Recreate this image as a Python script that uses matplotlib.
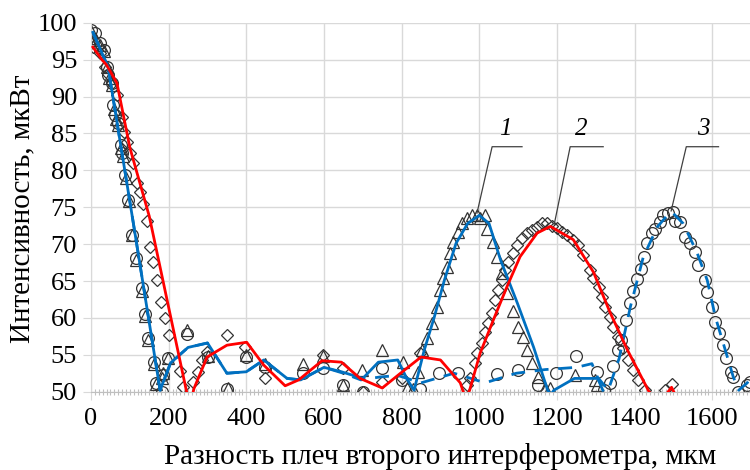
import matplotlib
matplotlib.use("Agg")
import matplotlib.pyplot as plt
from matplotlib.ticker import MultipleLocator

plt.rcParams['font.family'] = 'serif'
plt.rcParams['font.serif'] = ['Liberation Serif', 'DejaVu Serif']

# ---- curve 1: triangles + solid blue fit
tri_x = [0, 5, 12, 23, 33, 41, 47, 54, 60, 64, 70, 78, 82, 90, 97, 106, 117, 131, 139, 147,
         162, 168, 183, 186, 199, 247, 302, 352, 400, 448, 547, 598, 650, 698, 750, 804, 814,
         830, 843, 853, 865, 878, 891, 899, 907, 917, 925, 933, 946, 956, 968, 982, 994, 1002,
         1015, 1020, 1036, 1046, 1059, 1071, 1087, 1100, 1113, 1123, 1136, 1152, 1170, 1183,
         1247, 1299, 1304]
tri_y = [98.9, 98.0, 97.6, 97.0, 96.2, 94.0, 92.5, 91.6, 88.3, 87.0, 86.2, 83.0, 82.0, 79.0,
         75.8, 71.2, 67.8, 63.7, 60.3, 57.0, 53.8, 51.0, 51.8, 52.6, 54.6, 58.3, 54.8, 50.5,
         55.0, 53.8, 53.8, 54.9, 50.9, 52.9, 55.6, 54.0, 50.5, 50.3, 52.7, 55.6, 57.3, 59.3,
         61.5, 63.8, 65.4, 66.9, 68.8, 70.3, 71.6, 72.8, 73.5, 73.9, 73.9, 73.5, 73.9, 72.1,
         70.3, 68.2, 66.1, 63.4, 61.0, 58.8, 57.4, 55.6, 53.9, 52.0, 50.5, 50.5, 52.3, 51.6, 50.9]
fit1_x = [5, 44, 108, 178, 205, 250, 300, 350, 400, 445, 505, 540, 600, 645, 700, 740, 790,
          815, 832, 858, 884, 910, 940, 970, 1000, 1025, 1055, 1098, 1140, 1176, 1184, 1192,
          1245, 1305, 1318]
fit1_y = [98.7, 94.0, 73.2, 50.2, 53.9, 56.0, 56.6, 52.5, 52.7, 54.3, 51.8, 51.6, 53.3, 52.7,
          51.8, 54.0, 54.3, 51.6, 50.2, 55.6, 60.1, 65.1, 70.1, 72.8, 73.9, 72.8, 67.8, 62.0,
          56.0, 50.2, 49.6, 50.2, 51.8, 51.8, 50.2]

# ---- curve 2: diamonds + solid red fit
dia_x = [0, 5, 23, 36, 45, 54, 67, 80, 86, 93, 100, 108, 118, 126, 134, 144, 152, 160, 170,
         180, 190, 200, 229, 237, 262, 276, 287, 299, 350, 397, 448, 598, 650, 701, 750, 801,
         848, 968, 977, 989, 994, 1007, 1015, 1023, 1033, 1041, 1049, 1059, 1067, 1074, 1087,
         1097, 1110, 1123, 1136, 1149, 1162, 1175, 1188, 1200, 1213, 1226, 1242, 1255, 1268,
         1286, 1294, 1307, 1317, 1324, 1337, 1345, 1358, 1371, 1384, 1397, 1409, 1427, 1479, 1497]
dia_y = [97.2, 96.7, 95.9, 94.0, 93.0, 91.8, 90.2, 87.2, 85.2, 83.8, 82.3, 81.0, 78.3, 77.0,
         75.5, 73.2, 69.6, 67.6, 65.1, 62.1, 60.0, 57.7, 52.8, 50.7, 51.3, 52.7, 54.3, 55.4,
         57.7, 56.0, 51.8, 55.0, 53.2, 49.9, 51.3, 51.8, 55.2, 50.9, 51.8, 53.9, 55.2, 56.6,
         58.1, 59.3, 60.6, 62.4, 63.8, 65.1, 66.5, 67.6, 68.8, 69.9, 70.8, 71.5, 71.9, 72.3,
         72.8, 72.8, 72.5, 72.2, 71.6, 71.2, 70.6, 69.9, 68.5, 66.5, 65.4, 64.2, 62.9, 61.5,
         60.1, 58.8, 57.4, 55.9, 54.3, 52.9, 51.6, 50.2, 50.2, 51.1]
fit2_x = [5, 28, 40, 67, 100, 150, 245, 255, 265, 299, 350, 401, 445, 500, 535, 595, 645, 693,
          750, 797, 850, 900, 951, 965, 975, 1002, 1036, 1071, 1105, 1149, 1183, 1242, 1294,
          1337, 1381, 1437, 1465, 1495, 1515]
fit2_y = [96.7, 95.0, 94.3, 91.8, 83.1, 73.8, 50.3, 48.0, 50.4, 54.7, 56.3, 56.7, 53.6, 50.8,
          51.6, 54.2, 54.0, 51.8, 50.5, 52.5, 54.7, 54.3, 51.2, 49.0, 50.2, 55.2, 59.7, 64.2,
          68.3, 71.5, 72.4, 70.6, 66.2, 60.7, 55.7, 50.0, 48.5, 50.6, 48.5]

# ---- curve 3: circles + dashed blue fit
cir_x = [0, 10, 23, 33, 41, 44, 54, 57, 62, 70, 77, 80, 88, 95, 105, 116, 131, 139, 147, 162,
         167, 182, 185, 199, 246, 302, 350, 399, 448, 546, 598, 650, 701, 750, 801, 848, 895,
         946, 1046, 1100, 1150, 1198, 1250, 1303, 1320, 1337, 1345, 1358, 1365, 1379, 1389,
         1397, 1407, 1417, 1424, 1432, 1445, 1453, 1466, 1474, 1487, 1500, 1505, 1518, 1530,
         1543, 1556, 1564, 1582, 1587, 1600, 1608, 1616, 1628, 1636, 1647, 1654, 1667, 1690, 1697]
cir_y = [99.0, 98.6, 97.2, 96.3, 94.0, 92.9, 91.8, 88.9, 87.5, 86.4, 83.4, 82.3, 79.3, 76.0,
         71.2, 68.1, 64.0, 60.5, 57.3, 54.0, 51.2, 50.0, 52.3, 54.6, 57.8, 54.7, 50.4, 54.7,
         53.4, 52.6, 53.2, 50.9, 50.0, 53.2, 51.6, 50.3, 52.5, 52.5, 52.4, 53.0, 50.9, 52.5,
         54.9, 52.7, 50.2, 51.2, 53.5, 55.6, 57.0, 59.7, 62.0, 63.6, 65.3, 66.6, 68.2, 70.2,
         71.5, 72.0, 73.0, 73.9, 74.2, 74.3, 73.2, 73.0, 71.0, 70.1, 68.9, 67.2, 65.1, 63.5,
         61.5, 59.5, 57.9, 56.3, 54.6, 52.7, 52.0, 50.0, 50.9, 51.3]
fit3_x = [5, 44, 108, 178, 205, 250, 300, 350, 400, 445, 505, 540, 600, 650, 695, 745, 790,
          850, 935, 1015, 1095, 1170, 1250, 1290, 1304, 1332, 1360, 1389, 1422, 1458, 1484,
          1497, 1525, 1561, 1587, 1608, 1628, 1654, 1668, 1690, 1700]
fit3_y = [98.7, 94.0, 73.2, 50.2, 53.9, 56.0, 56.6, 52.5, 52.7, 54.3, 51.8, 51.6, 53.3, 52.5,
          51.6, 52.0, 52.2, 51.2, 52.5, 51.2, 52.5, 53.0, 53.3, 53.8, 52.0, 50.2, 54.5, 61.5,
          68.2, 72.3, 73.9, 74.3, 72.8, 68.8, 65.1, 60.1, 56.6, 52.0, 50.2, 51.2, 52.0]

# curve labels: text x, leader start (peak), elbow x, end x
labels = ['1', '2', '3']
lab_text_x = [1068, 1262, 1578]
lab_peak_x = [994, 1193, 1494]
lab_peak_y = [74.2, 72.7, 74.5]
lab_elbow_x = [1033, 1234, 1533]
lab_end_x = [1110, 1319, 1616]

x_ticks = [0, 200, 400, 600, 800, 1000, 1200, 1400, 1600]

fig = plt.figure(figsize=(7.5, 4.7), dpi=100)
# original plot area was wider than the picture; right part is cropped
ax = fig.add_axes([0.1213, 0.1666, 0.932, 0.785])

mk = dict(linestyle='none', markerfacecolor='none', markeredgecolor='#333333',
          markeredgewidth=0.9, zorder=2)
ax.plot(tri_x, tri_y, marker='^', markersize=8, **mk)
ax.plot(cir_x, cir_y, marker='o', markersize=8.5, **mk)
ax.plot(dia_x, dia_y, marker='D', markersize=6, **mk)

ax.plot(fit3_x, fit3_y, color='#0070C0', lw=2, dashes=(5, 3.5), zorder=3)
ax.plot(fit1_x, fit1_y, color='#0070C0', lw=2, zorder=4)
ax.plot(fit2_x, fit2_y, color='#FF0000', lw=2, zorder=4)

for i in range(3):
    ax.plot([lab_peak_x[i], lab_elbow_x[i], lab_end_x[i]],
            [lab_peak_y[i], 83.2, 83.2], color='#404040', lw=0.9, zorder=5)
    ax.text(lab_text_x[i], 85.6, labels[i], fontsize=18, style='italic',
            ha='center', va='center', color='black')

ax.set_xlim(0, 1800)
ax.set_ylim(50, 100)
ax.xaxis.set_minor_locator(MultipleLocator(10))
ax.yaxis.set_major_locator(MultipleLocator(5))
ax.set_xticks(x_ticks)
ax.set_xticklabels([str(v) for v in x_ticks])
ax.grid(True, which='major', color='#d9d9d9', lw=1, zorder=0)
ax.axvline(1800, color='#d9d9d9', lw=1, zorder=0)
ax.set_axisbelow(True)
for s in ['top', 'right']:
    ax.spines[s].set_visible(False)
ax.spines['left'].set_color('#d9d9d9')
ax.spines['bottom'].set_color('#bfbfbf')
ax.tick_params(axis='both', which='major', direction='out', length=6, color='#d9d9d9',
               labelsize=19, pad=4)
ax.tick_params(axis='x', which='major', pad=6)
ax.tick_params(axis='x', which='minor', direction='inout', length=5, color='#bfbfbf', width=0.8)

ax.set_xlabel('Разность плеч второго интерферометра, мкм', fontsize=21)
ax.xaxis.set_label_coords(0.5, -0.14)
fig.text(0.030, 0.555, 'Интенсивность, мкВт', fontsize=21, rotation=90,
         ha='center', va='center')

fig.savefig('out.png', dpi=100)
